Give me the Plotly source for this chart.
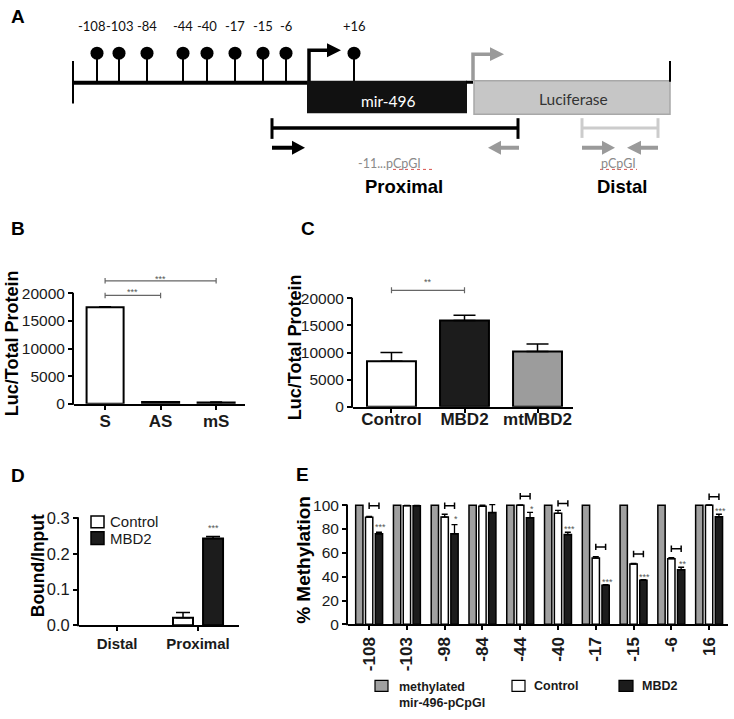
import plotly.graph_objects as go

W, H = 734, 719
ARIAL = "Liberation Sans, Arial, sans-serif"
GILL = "Lato, 'Open Sans', sans-serif"

# ---------------- data ----------------
# Panel A (schematic of the mir-496 promoter construct)
cpg_labels = ["-108", "-103", "-84", "-44", "-40", "-17", "-15", "-6", "+16"]
cpg_schematic_x = [97, 119, 147, 183, 207, 235, 263, 286, 354]

# Panel B
b_cats = ["S", "AS", "mS"]
b_vals = [17500, 300, 250]
b_err = [100, 60, 50]
b_sig_pairs = [(0, 1), (0, 2)]
b_sig_text = ["***", "***"]
b_sig_y = [19650, 22300]
b_star_y = [20300, 22700]
b_yticks = [0, 5000, 10000, 15000, 20000]

# Panel C
c_cats = ["Control", "MBD2", "mtMBD2"]
c_vals = [8400, 15900, 10200]
c_err = [1600, 1000, 1400]
c_colors = ["white", "#1c1c1c", "#9c9c9c"]
c_sig_pairs = [(0, 1)]
c_sig_text = ["**"]
c_sig_y = [21500]
c_star_y = [22950]
c_yticks = [0, 5000, 10000, 15000, 20000]

# Panel D
d_cats = ["Distal", "Proximal"]
d_series = ["Control", "MBD2"]
d_control = [0.0, 0.021]
d_control_err = [0.0, 0.015]
d_mbd2 = [0.0, 0.243]
d_mbd2_err = [0.0, 0.005]
d_star_text = ["", "***"]
d_star_y = [None, 0.272]
d_yticks = [0.0, 0.1, 0.2, 0.3]
d_yticktext = ["0.0", "0.1", "0.2", "0.3"]

# Panel E
e_sites = ["-108", "-103", "-98", "-84", "-44", "-40", "-17", "-15", "-6", "16"]
e_series = ["methylated<br>mir-496-pCpGI", "Control", "MBD2"]
e_methylated = [100, 100, 100, 100, 100, 100, 100, 100, 100, 100]
e_control = [89.8, 99.6, 90.0, 99.2, 100.0, 93.2, 55.6, 50.6, 55.1, 100.0]
e_control_err = [0.8, 0.3, 2.4, 0.8, 0.3, 2.4, 1.2, 0.6, 0.8, 0.3]
e_mbd2 = [76.0, 99.6, 76.0, 93.8, 89.5, 75.3, 32.8, 37.0, 45.9, 90.2]
e_mbd2_err = [1.3, 0.3, 7.6, 6.6, 4.4, 2.0, 0.6, 0.6, 2.0, 2.2]
e_bracket_y = [99.5, None, 99.5, None, 107.5, 101.5, 65.0, 59.0, 63.5, 107.0]
e_star_text = ["***", "", "*", "", "*", "***", "***", "***", "**", "***"]
e_star_y = [81.8, None, 88.2, None, 96.9, 80.4, 35.8, 39.9, 50.4, 95.3]
e_yticks = [0, 20, 40, 60, 80, 100]

# ---------------- helpers ----------------
fig = go.Figure()
annotations = []
shapes = []


def fx(p):
    return p / W


def fy(p):
    return 1 - p / H


def text(x, y, s, size, color="black", family=ARIAL, xref="paper", yref="paper",
         xanchor="center", yanchor="middle", angle=0, align="center"):
    if xref == "paper":
        x = fx(x)
    if yref == "paper":
        y = fy(y)
    annotations.append(dict(x=x, y=y, xref=xref, yref=yref, text=s, showarrow=False,
                            font=dict(size=size, color=color, family=family),
                            xanchor=xanchor, yanchor=yanchor, textangle=angle,
                            align=align))


def aline(x0, y0, x1, y1, color="black", width=2, dash=None):
    ln = dict(color=color, width=width)
    if dash:
        ln["dash"] = dash
    shapes.append(dict(type="line", xref="x", yref="y", x0=x0, y0=y0, x1=x1, y1=y1,
                       line=ln, layer="above"))


def apath(p, fill=None, color="black", width=0):
    d = dict(type="path", xref="x", yref="y", path=p, layer="above",
             line=dict(color=color, width=width))
    if fill:
        d["fillcolor"] = fill
    shapes.append(d)


def arect(x0, y0, x1, y1, fill, lcolor="black", lwidth=0):
    shapes.append(dict(type="rect", xref="x", yref="y", x0=x0, y0=y0, x1=x1, y1=y1,
                       fillcolor=fill, line=dict(color=lcolor, width=lwidth), layer="above"))


def prect(x0, y0, x1, y1, fill, lwidth=1.5):
    shapes.append(dict(type="rect", xref="paper", yref="paper", x0=fx(x0), y0=fy(y0),
                       x1=fx(x1), y1=fy(y1), fillcolor=fill,
                       line=dict(color="black", width=lwidth)))


def setup_axes(n, xl, xr, xrange, yz, ppu, ytop, ytickvals, yticktext, ysize,
               xtickvals, xticktext, xfont, xangle=0, xstandoff=0):
    top_px = yz - ytop * ppu
    xa = dict(domain=[fx(xl), fx(xr)], range=xrange, anchor=f"y{n}", showline=True,
              linewidth=2, linecolor="black", ticks="outside", ticklen=4, tickwidth=1.5,
              tickcolor="black", tickmode="array", tickvals=xtickvals, ticktext=xticktext,
              tickfont=xfont, tickangle=xangle, showgrid=False, zeroline=False,
              fixedrange=True, ticklabelstandoff=xstandoff)
    ya = dict(domain=[fy(yz), fy(top_px)], range=[0, ytop], anchor=f"x{n}",
              showline=False, ticks="outside", ticklen=5, tickwidth=1.5,
              tickcolor="black", tickmode="array", tickvals=ytickvals, ticktext=yticktext,
              tickfont=dict(family=ARIAL, size=ysize, color="#1a1a1a"),
              showgrid=False, zeroline=False, fixedrange=True)
    fig.update_layout({f"xaxis{n}": xa, f"yaxis{n}": ya})
    shapes.append(dict(type="line", xref="paper", yref="paper", x0=fx(xl - 1), x1=fx(xl - 1),
                       y0=fy(yz + 1), y1=fy(yz - max(ytickvals) * ppu - 0.75),
                       line=dict(color="black", width=2)))


def bracket(n, x0, x1, y, half, color, width):
    p = (f"M{x0},{y - half} L{x0},{y + half} M{x0},{y} L{x1},{y} "
         f"M{x1},{y - half} L{x1},{y + half}")
    shapes.append(dict(type="path", xref=f"x{n}", yref=f"y{n}", path=p,
                       line=dict(color=color, width=width)))


def visible_only(vals):
    # a zero-height bar is not drawn in the original figure
    return [v if v else None for v in vals]


# ---------------- Panel A (pixel-space schematic) ----------------
fig.update_layout(
    xaxis=dict(domain=[0, 1], range=[0, W], visible=False, fixedrange=True),
    yaxis=dict(domain=[0, 1], range=[H, 0], visible=False, fixedrange=True),
)
stem_x, stem_y = [], []
for cx in cpg_schematic_x:
    stem_x += [cx, cx, None]
    stem_y += [52, 82, None]
fig.add_trace(go.Scatter(x=stem_x, y=stem_y, mode="lines", line=dict(color="black", width=2),
                         xaxis="x", yaxis="y", hoverinfo="skip", showlegend=False))
fig.add_trace(go.Scatter(x=cpg_schematic_x, y=[52] * len(cpg_schematic_x), mode="markers",
                         marker=dict(symbol="circle", size=13, color="black"),
                         xaxis="x", yaxis="y", hoverinfo="skip", showlegend=False))
for lab, cx in zip(cpg_labels, cpg_schematic_x):
    shift = -6 if lab == "-108" else 0
    text(cx + shift, 24, lab, 13, color="#111", family=GILL, xref="x", yref="y")

aline(73, 82, 310, 82, width=4)
aline(73, 60, 73, 103, width=2)
apath("M309,82 L309,49 L330,49", color="black", width=3.5)
apath("M327,42 L341,49 L327,56 Z", fill="black")
arect(307, 80, 467, 113, "#111111")
aline(466, 81.5, 473, 81.5, width=3)
text(388, 101, "mir-496", 15.5, color="white", family=GILL, xref="x", yref="y")
arect(474, 80, 670, 114, "#c6c6c6", lcolor="#a8a8a8", lwidth=1.5)
apath("M473,80 L473,53 L492,53", color="#9a9a9a", width=3.5)
apath("M490,46 L504,53 L490,60 Z", fill="#9a9a9a")
aline(670, 60, 670, 81, width=2)
text(573, 99, "Luciferase", 15.5, color="#333", family=GILL, xref="x", yref="y")

# proximal amplicon
aline(272, 128, 518, 128, width=3.5)
aline(272, 118, 272, 139, width=3)
aline(518, 118, 518, 139, width=3)
aline(272, 148, 294, 148, width=4)
apath("M292,141 L305,148 L292,155 Z", fill="black")
aline(519, 148, 499, 148, color="#9a9a9a", width=4)
apath("M501,141 L488,148 L501,155 Z", fill="#9a9a9a")
text(356, 164, "-11...pCpGI", 12.5, color="#8a8a8a", family=GILL, xref="x", yref="y",
     xanchor="left")
aline(393, 170, 432, 170, color="#d9534f", width=1, dash="dot")
text(404, 187, "<b>Proximal</b>", 18.5, xref="x", yref="y")

# distal amplicon
aline(582, 128, 658, 128, color="#cccccc", width=3)
aline(582, 118, 582, 138, color="#cccccc", width=3)
aline(658, 118, 658, 138, color="#cccccc", width=3)
aline(582, 148, 604, 148, color="#9a9a9a", width=4)
apath("M602,141 L615,148 L602,155 Z", fill="#9a9a9a")
aline(658, 148, 639, 148, color="#9a9a9a", width=4)
apath("M641,141 L627,148 L641,155 Z", fill="#9a9a9a")
text(618, 164, "pCpGI", 12.5, color="#8a8a8a", family=GILL, xref="x", yref="y")
aline(600, 170, 637, 170, color="#d9534f", width=1, dash="dot")
text(622, 187, "<b>Distal</b>", 18.5, xref="x", yref="y")

# ---------------- Panel B ----------------
bold17 = dict(family=ARIAL, size=17, color="#1a1a1a", weight="bold")
setup_axes(2, 74, 245, [-0.56, 2.52], 408, 112 / 20000, 24000,
           b_yticks, [str(v) for v in b_yticks], 15.5,
           list(range(len(b_cats))), b_cats, bold17, xstandoff=-3)
fig.add_trace(go.Bar(x=list(range(len(b_cats))), y=b_vals, width=0.667,
                     marker=dict(color="white", line=dict(color="black", width=2)),
                     error_y=dict(type="data", array=b_err, arrayminus=[0] * 3,
                                  symmetric=False, color="black", thickness=1.5, width=6),
                     xaxis="x2", yaxis="y2", showlegend=False))
for (a, b), s, yb, ys in zip(b_sig_pairs, b_sig_text, b_sig_y, b_star_y):
    bracket(2, a, b, yb, 500, "#666", 1.2)
    text((a + b) / 2, ys, s, 9, color="#555", xref="x2", yref="y2")
text(12, 346.5, "<b>Luc/Total Protein</b>", 18, angle=-90)

# ---------------- Panel C ----------------
setup_axes(3, 353, 573, [-0.527, 2.486], 411, 110 / 20000, 25000,
           c_yticks, [str(v) for v in c_yticks], 15.5,
           list(range(len(c_cats))), c_cats, bold17, xstandoff=-8)
fig.add_trace(go.Bar(x=list(range(len(c_cats))), y=c_vals, width=0.67,
                     marker=dict(color=c_colors, line=dict(color="black", width=2)),
                     error_y=dict(type="data", array=c_err, arrayminus=[0] * 3,
                                  symmetric=False, color="black", thickness=1.5, width=11),
                     xaxis="x3", yaxis="y3", showlegend=False))
for (a, b), s, yb, ys in zip(c_sig_pairs, c_sig_text, c_sig_y, c_star_y):
    bracket(3, a, b, yb, 550, "#666", 1.2)
    text((a + b) / 2, ys, s, 9, color="#555", xref="x3", yref="y3")
text(295, 350.5, "<b>Luc/Total Protein</b>", 18, angle=-90)

# ---------------- Panel D ----------------
bold15 = dict(family=ARIAL, size=15, color="#1a1a1a", weight="bold")
setup_axes(4, 79, 239, [-0.47, 1.506], 633, 109 / 0.3, 0.32,
           d_yticks, d_yticktext, 16.5,
           list(range(len(d_cats))), d_cats, bold15)
d_x = list(range(len(d_cats)))
fig.add_trace(go.Bar(x=d_x, y=visible_only(d_control), width=0.247, offset=-0.309,
                     name=d_series[0],
                     marker=dict(color="white", line=dict(color="black", width=2)),
                     error_y=dict(type="data", array=visible_only(d_control_err),
                                  arrayminus=[0, 0], symmetric=False, color="black",
                                  thickness=1.5, width=7),
                     xaxis="x4", yaxis="y4", showlegend=False))
fig.add_trace(go.Bar(x=d_x, y=visible_only(d_mbd2), width=0.247, offset=0.062,
                     name=d_series[1],
                     marker=dict(color="#1c1c1c", line=dict(color="black", width=2)),
                     error_y=dict(type="data", array=visible_only(d_mbd2_err),
                                  arrayminus=[0, 0], symmetric=False, color="black",
                                  thickness=1.5, width=7),
                     xaxis="x4", yaxis="y4", showlegend=False))
for i, (s, ys) in enumerate(zip(d_star_text, d_star_y)):
    if s:
        text(i + 0.185, ys, s, 9, color="#555", xref="x4", yref="y4")
text(37.5, 572.5, "<b>Bound/Input</b>", 17.5, angle=-90)
# legend D
prect(91, 522, 104, 534, "white")
prect(91, 538, 104, 551, "#1c1c1c")
text(108, 528, d_series[0], 15, color="#1a1a1a", xanchor="left")
text(108, 545, d_series[1], 15, color="#1a1a1a", xanchor="left")

# ---------------- Panel E ----------------
setup_axes(5, 348, 728, [-0.56, 9.5], 632, 1.21, 114,
           e_yticks, [str(v) for v in e_yticks], 15.5,
           list(range(len(e_sites))), e_sites, bold17, xangle=-90)
e_x = list(range(len(e_sites)))
bw = 0.193
for vals, errs, col, off, nm in [
    (e_methylated, None, "#a0a0a0", -0.357, e_series[0]),
    (e_control, e_control_err, "white", -0.0965, e_series[1]),
    (e_mbd2, e_mbd2_err, "#1c1c1c", 0.163, e_series[2]),
]:
    kw = {}
    if errs is not None:
        kw["error_y"] = dict(type="data", array=errs, arrayminus=[0] * len(errs),
                             symmetric=False, color="black", thickness=1.3, width=3)
    fig.add_trace(go.Bar(x=e_x, y=vals, width=bw, offset=off, name=nm.replace("<br>", " "),
                         marker=dict(color=col, line=dict(color="black", width=1.5)),
                         xaxis="x5", yaxis="y5", showlegend=False, **kw))
for i in e_x:
    if e_bracket_y[i] is not None:
        bracket(5, i, i + 0.26, e_bracket_y[i], 2.7, "black", 1.5)
    if e_star_text[i]:
        text(i + 0.3, e_star_y[i], e_star_text[i], 9, color="#555", xref="x5", yref="y5")
text(304, 566.5, "<b>% Methylation</b>", 19, angle=-90)
# legend E
prect(375, 689, 388, 700, "#a0a0a0", 1.2)
prect(512, 689, 525, 700, "white", 1.2)
prect(619, 689, 633, 700, "#1c1c1c", 1.2)
text(397, 687, "<b>" + e_series[0] + "</b>", 12.5, color="#1a1a1a", xanchor="left",
     yanchor="top", align="left")
text(532, 695, "<b>" + e_series[1] + "</b>", 12.5, color="#1a1a1a", xanchor="left")
text(640, 695, "<b>" + e_series[2] + "</b>", 12.5, color="#1a1a1a", xanchor="left")

# ---------------- panel letters ----------------
for lab, x, y in [("A", 17.5, 15), ("B", 17.5, 230.5), ("C", 307.5, 230),
                  ("D", 17.5, 480.5), ("E", 302.5, 480)]:
    text(x, y, "<b>" + lab + "</b>", 19)

fig.update_layout(
    width=W, height=H, margin=dict(l=0, r=0, t=0, b=0),
    paper_bgcolor="white", plot_bgcolor="rgba(0,0,0,0)",
    barmode="overlay", showlegend=False,
    annotations=annotations, shapes=shapes,
    font=dict(family=ARIAL, color="#1a1a1a"),
)
fig.write_html("out.html", config={"displayModeBar": False},
               post_script="document.body.style.margin='0';document.body.style.overflow='hidden';")
